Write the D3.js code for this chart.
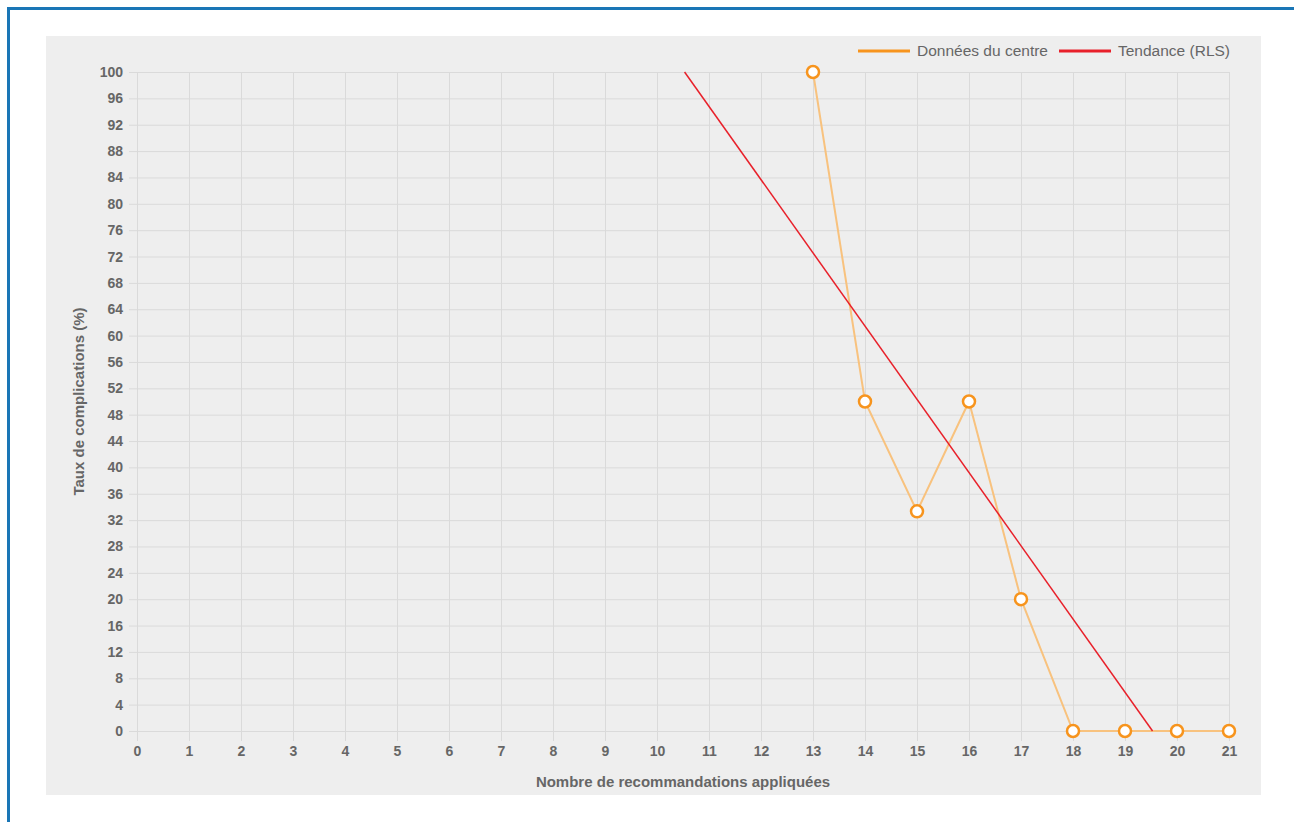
<!doctype html>
<html>
  <head>
    <script src="https://cdn.jsdelivr.net/npm/d3@7/dist/d3.min.js"></script>
    <style>
      body {
          margin: 0;
          background: #fff;
          font-family: "Liberation Sans", Arial, sans-serif;
      }
      .frame {
          position: absolute;
          left: 7px;
          top: 7px;
          width: 1300px;
          height: 830px;
          border: 3px solid #1a76b6;
      }
      .tick text {
          fill: #666;
          font-size: 14px;
          font-weight: bold;
          font-family: "Liberation Sans", Arial, sans-serif;
      }
      .grid line {
          stroke: #dadada;
          stroke-width: 1;
      }
      .grid .domain {
          display: none;
      }
      .title {
          fill: #666;
          font-size: 15px;
          font-weight: bold;
          text-anchor: middle;
      }
      .legend text {
          fill: #666;
          font-size: 15.5px;
      }
    </style>
  </head>
  <body>
    <div class="frame"></div>
    <svg width="1294" height="822" style="position:absolute;left:0;top:0"></svg>
    <script type="text/javascript">
        // data
        var xValues = [13, 14, 15, 16, 17, 18, 19, 20, 21];
        var rates = [100, 50, 33.33, 50, 20, 0, 0, 0, 0];
        // trend (RLS) endpoints, clipped to 0..100
        var trendX = [10.53, 19.53];
        var trendY = [100, 0];
        var xTicks = d3.range(0, 22);
        var yTicks = d3.range(0, 101, 4);
        var legendLabels = ["Données du centre", "Tendance (RLS)"];
        var legendColors = ["#f7941d", "#e8202a"];

        var svg = d3.select("svg");

        // panel
        svg.append("rect")
            .attr("x", 46).attr("y", 36)
            .attr("width", 1215).attr("height", 759)
            .attr("fill", "#eeeeee");

        var mLeft = 137, mRight = 1229, mTop = 72, mBottom = 731;

        var x = d3.scaleLinear().domain([0, 21]).range([mLeft, mRight]);
        var y = d3.scaleLinear().domain([0, 100]).range([mBottom, mTop]);

        // grid
        svg.append("g")
            .attr("class", "grid")
            .attr("transform", `translate(0,${mBottom})`)
            .call(d3.axisBottom(x).tickValues(xTicks).tickSize(-(mBottom - mTop)).tickSizeOuter(0))
            .call(g => g.selectAll(".tick text").remove());

        svg.append("g")
            .attr("class", "grid")
            .attr("transform", `translate(${mLeft},0)`)
            .call(d3.axisLeft(y).tickValues(yTicks).tickSize(-(mRight - mLeft)).tickSizeOuter(0))
            .call(g => g.selectAll(".tick text").remove());

        // axes with small outside ticks
        svg.append("g")
            .attr("class", "grid")
            .attr("transform", `translate(0,${mBottom})`)
            .call(d3.axisBottom(x).tickValues(xTicks).tickFormat(d3.format("d")).tickSize(10).tickPadding(5).tickSizeOuter(0));

        svg.append("g")
            .attr("class", "grid")
            .attr("transform", `translate(${mLeft},0)`)
            .call(d3.axisLeft(y).tickValues(yTicks).tickFormat(d3.format("d")).tickSize(8).tickPadding(6).tickSizeOuter(0));

        // axis titles
        svg.append("text")
            .attr("class", "title")
            .attr("x", (mLeft + mRight) / 2)
            .attr("y", 787)
            .text("Nombre de recommandations appliquées");

        svg.append("text")
            .attr("class", "title")
            .attr("transform", `translate(84,${(mTop + mBottom) / 2}) rotate(-90)`)
            .text("Taux de complications (%)");

        // data line
        var pts = xValues.map((d, i) => ({x: d, y: rates[i]}));

        svg.append("path")
            .datum(pts)
            .attr("fill", "none")
            .attr("stroke", "#f8c27e")
            .attr("stroke-width", 2)
            .attr("d", d3.line().x(d => x(d.x)).y(d => y(d.y)));

        // trend
        var trend = trendX.map((d, i) => ({x: d, y: trendY[i]}));
        svg.append("path")
            .datum(trend)
            .attr("fill", "none")
            .attr("stroke", "#e8202a")
            .attr("stroke-width", 1.5)
            .attr("d", d3.line().x(d => x(d.x)).y(d => y(d.y)));

        svg.selectAll(".pt")
            .data(pts)
            .enter().append("circle")
            .attr("class", "pt")
            .attr("cx", d => x(d.x))
            .attr("cy", d => y(d.y))
            .attr("r", 6)
            .attr("fill", "#fff")
            .attr("stroke", "#f7941d")
            .attr("stroke-width", 2.5);

        // legend
        var legendX = [858, 1059];
        var legend = svg.append("g").attr("class", "legend");
        legendLabels.forEach(function(label, i) {
            legend.append("line")
                .attr("x1", legendX[i]).attr("x2", legendX[i] + 52)
                .attr("y1", 51).attr("y2", 51)
                .attr("stroke", legendColors[i])
                .attr("stroke-width", 3);
            legend.append("text")
                .attr("x", legendX[i] + 59)
                .attr("y", 56)
                .text(label);
        });
    </script>
  </body>
</html>
